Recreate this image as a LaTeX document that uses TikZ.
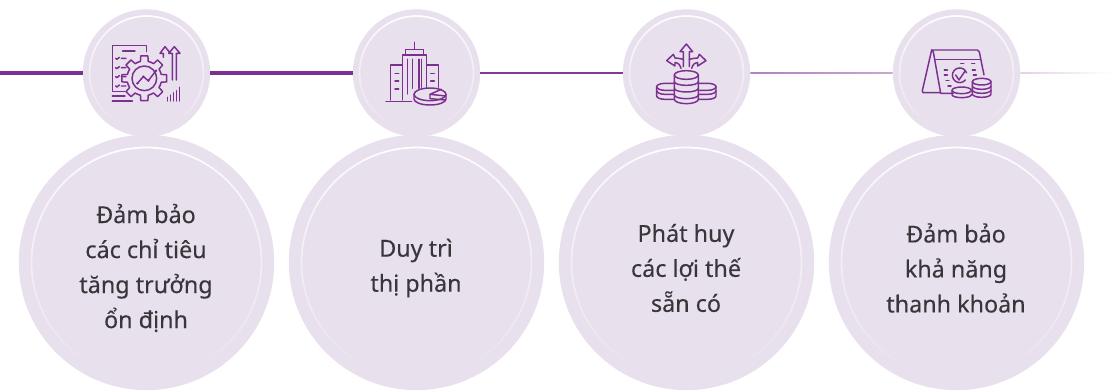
\documentclass[tikz,border=0pt]{standalone}
\usepackage{fontspec}
\setmainfont{Noto Sans}
\newfontfamily\capfont[FakeBold=0.25]{Noto Sans}
\usetikzlibrary{calc}
\definecolor{disccolor}{HTML}{E8E0ED}
\definecolor{iconcolor}{HTML}{7B2F8E}
\definecolor{textcolor}{HTML}{38363A}
\tikzset{
  topdisc/.style={circle,fill=disccolor,minimum size=95.5pt,inner sep=0pt},
  bigdisc/.style={circle,fill=disccolor,minimum size=191.5pt,inner sep=0pt},
  ringline/.style={line width=1.3pt},
  caption/.style={text=textcolor,align=center,font=\capfont\fontsize{17.5}{26.25}\selectfont},
  iconline/.style={draw=iconcolor,line width=1.1pt,line join=round,line cap=round},
  iconscope/.style={x=.25pt,y=-.25pt}
}
\begin{document}
\begin{tikzpicture}[x=.75pt,y=-.75pt]
  \useasboundingbox (0,0) rectangle (1113,392);

  \foreach \idx/\xc in {1/146.5,2/416.5,3/686.5,4/956.5}{
    \node[topdisc] (top\idx) at (\xc,73) {};
    \node[bigdisc] (big\idx) at (\xc,262.5) {};
    % white rings fade towards the bottom
    \foreach \seg in {0,...,35}{
      \pgfmathsetmacro\mixp{min(100,\seg*100/32)}
      \draw[ringline,disccolor!\mixp!white] ($(top\idx)+({-90+\seg*5}:57)$) arc [start angle=-90+\seg*5,delta angle=5.5,radius=57];
      \draw[ringline,disccolor!\mixp!white] ($(top\idx)+({-90-\seg*5}:57)$) arc [start angle=-90-\seg*5,delta angle=-5.5,radius=57];
      \draw[ringline,disccolor!\mixp!white] ($(big\idx)+({-90+\seg*5}:115)$) arc [start angle=-90+\seg*5,delta angle=5.5,radius=115];
      \draw[ringline,disccolor!\mixp!white] ($(big\idx)+({-90-\seg*5}:115)$) arc [start angle=-90-\seg*5,delta angle=-5.5,radius=115];
    }
  }

  \coordinate (lstart) at (0,73);
  \coordinate (lend) at (1113,73);
  \draw[iconcolor,line width=2.3pt] (lstart) -- (top1);
  \draw[iconcolor,line width=2.3pt] (top1) -- (top2);
  \draw[iconcolor!95,line width=1.5pt] (top2) -- (top3);
  \shade[left color=iconcolor!60,right color=iconcolor!42] ($(top3.east)+(0,-.7)$) rectangle ($(top4.west)+(0,.7)$);
  \shade[left color=iconcolor!22,right color=white] ($(top4.east)+(0,-.6)$) rectangle ($(lend)+(0,.6)$);

  \node[caption] (cap1) at (146,268) {Đảm bảo\\các chỉ tiêu\\tăng trưởng\\ổn định};
  \node[caption] (cap2) at (416,268) {Duy trì\\thị phần};
  \node[caption] (cap3) at (686,268) {Phát huy\\các lợi thế\\sẵn có};
  \node[caption] (cap4) at (956,268) {Đảm bảo\\khả năng\\thanh khoản};

  % gear icon
  \begin{scope}[shift={(80,0)},iconscope]
    \draw[iconline] (135,275) -- (97,275) -- (97,137) -- (200,137) -- (200,155);
    \draw[iconline] (97,288) -- (135,288) (97,303) -- (157,303) (128,153) -- (165,153);
    \foreach \yc in {175,203,230,258}{
      \draw[iconline] (107,\yc) -- (111,\yc+3) -- (118,\yc-3) (124,\yc) -- (138,\yc);
    }
    \foreach \a in {0,45,...,315}{
      \draw[iconline] (\a-22.5:52) ++(193,235) coordinate (g0)
        (\a-13:52) ++(193,235) coordinate (g1)
        (\a-9:68) ++(193,235) coordinate (g2)
        (\a+9:68) ++(193,235) coordinate (g3)
        (\a+13:52) ++(193,235) coordinate (g4)
        (\a+22.5:52) ++(193,235) coordinate (g5)
        (g0) -- (g1) -- (g2) -- (g3) -- (g4) -- (g5);
    }
    \draw[iconline] (193,235) circle (37);
    \draw[iconline] (172,250) -- (190,230) -- (205,242) -- (228,212);
    \fill[iconcolor] (172,250) circle (4) (190,230) circle (4) (205,242) circle (4) (228,212) circle (4);
    \draw[iconline] (277,240) -- (277,160) -- (266,160) -- (283,140) -- (300,160) -- (289,160) -- (289,240);
    \draw[iconline] (250,172) -- (250,160) -- (240,160) -- (255,140) -- (268,156);
    \foreach \xc/\yc in {262/292,271/285,280/278,289/272,299/262}{
      \draw[iconline] (\xc,303) -- (\xc,\yc);
    }
  \end{scope}

  % tower icon
  \begin{scope}[shift={(350,0)},iconscope]
    \draw[iconline] (157,300) -- (157,165) -- (230,165) -- (230,262);
    \draw[iconline] (167,165) -- (167,148) -- (220,148) -- (220,165);
    \draw[iconline] (193,127) -- (193,148);
    \draw[iconline] (172,178) -- (172,282) (188,178) -- (188,265) (207,178) -- (207,265) (214,178) -- (214,262);
    \draw[iconline] (122,300) -- (122,195) -- (157,195) (230,195) -- (265,195) -- (265,262);
    \foreach \yc in {220,243,267}{
      \draw[iconline] (135,\yc) -- (146,\yc);
    }
    \foreach \yc in {220,243}{
      \draw[iconline] (242,\yc) -- (253,\yc);
    }
    \draw[iconline] (108,305) -- (185,305);
    \draw[iconline] (240,283) ellipse [x radius=48,y radius=19];
    \draw[iconline] (192,283) -- (192,297) arc [start angle=180,end angle=0,x radius=48,y radius=18] -- (288,283);
    \draw[iconline] (240,283) -- (274,268) (240,283) -- (288,288);
    \draw[iconline] (240,283) -- (240,296) -- (287,300);
  \end{scope}

  % coins and arrows icon
  \begin{scope}[shift={(620,0)},iconscope]
    \draw[iconline] (199,225) ellipse [x radius=36,y radius=13];
    \draw[iconline] (163,225) -- (163,298) arc [start angle=180,end angle=0,x radius=36,y radius=13] -- (235,225);
    \foreach \yc in {245,265,285}{
      \draw[iconline] (163,\yc) arc [start angle=180,end angle=0,x radius=36,y radius=11];
    }
    \draw[iconline] (163,250) -- (135,250) arc [start angle=-90,end angle=-180,x radius=25,y radius=10] -- (110,288) arc [start angle=180,end angle=90,x radius=25,y radius=10] -- (163,298);
    \draw[iconline] (110,260) arc [start angle=180,end angle=90,x radius=25,y radius=11] -- (163,271);
    \draw[iconline] (110,272) arc [start angle=180,end angle=90,x radius=25,y radius=11] -- (163,283);
    \draw[iconline] (235,250) -- (263,250) arc [start angle=-90,end angle=0,x radius=25,y radius=10] -- (288,288) arc [start angle=0,end angle=90,x radius=25,y radius=10] -- (235,298);
    \draw[iconline] (288,260) arc [start angle=0,end angle=90,x radius=25,y radius=11] -- (235,271);
    \draw[iconline] (288,272) arc [start angle=0,end angle=90,x radius=25,y radius=11] -- (235,283);
    \draw[iconline] (190,200) -- (190,155) -- (180,155) -- (199,132) -- (218,155) -- (208,155) -- (208,200);
    \draw[iconline] (190,178) .. controls (182,176) and (172,174) .. (165,174) -- (160,163) -- (140,182) -- (165,198) -- (165,188) .. controls (175,188) and (180,195) .. (183,205);
    \draw[iconline] (208,178) .. controls (216,176) and (226,174) .. (233,174) -- (238,163) -- (258,182) -- (233,198) -- (233,188) .. controls (223,188) and (218,195) .. (215,205);
  \end{scope}

  % calendar icon
  \begin{scope}[shift={(890,0)},iconscope]
    \draw[iconline] (190,280) -- (152,280) -- (130,156) -- (125,150) -- (262,150) -- (268,156) -- (282,225);
    \draw[iconline] (125,150) -- (97,272) -- (99,278) -- (150,278);
    \draw[iconline] (135,178) -- (270,178);
    \draw[iconline] (226,240) arc [start angle=40,end angle=340,radius=22];
    \draw[iconline] (197,225) -- (207,240) -- (226,212);
    \foreach \xc/\yc in {163/210,163/225,168/242,174/258,212/190,245/190,247/210,250/225}{
      \draw[iconline] (\xc,\yc) -- (\xc+9,\yc);
    }
    \draw[iconline] (275,245) ellipse [x radius=28,y radius=10];
    \draw[iconline] (247,245) -- (247,282) arc [start angle=180,end angle=0,x radius=28,y radius=10] -- (303,245);
    \draw[iconline] (247,258) arc [start angle=180,end angle=0,x radius=28,y radius=10];
    \draw[iconline] (247,270) arc [start angle=180,end angle=0,x radius=28,y radius=10];
    \draw[iconline] (215,271) ellipse [x radius=29,y radius=10];
    \draw[iconline] (186,271) -- (186,284) arc [start angle=180,end angle=0,x radius=29,y radius=9] -- (244,284);
  \end{scope}
\end{tikzpicture}
\end{document}
